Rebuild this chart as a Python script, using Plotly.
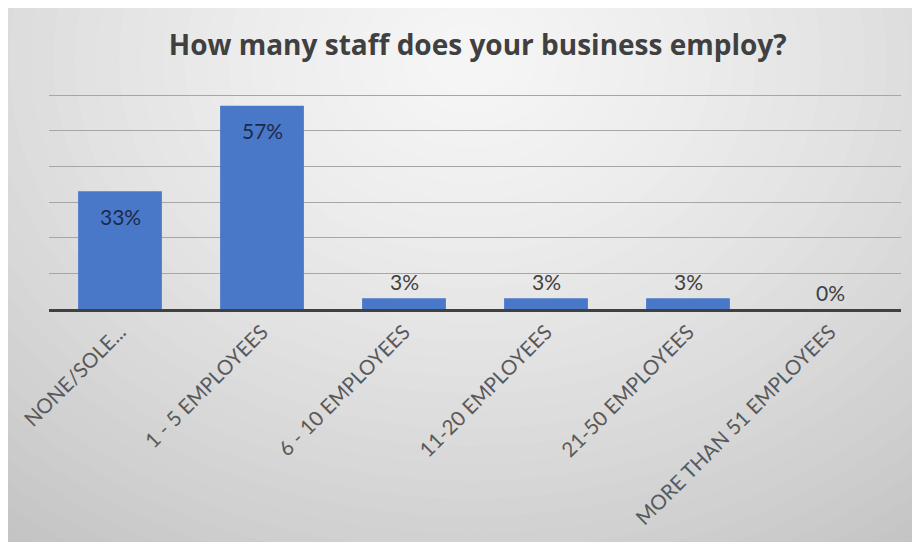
import plotly.graph_objects as go

categories = ["NONE/SOLE...", "1 - 5 EMPLOYEES", "6 - 10 EMPLOYEES",
              "11-20 EMPLOYEES", "21-50 EMPLOYEES", "MORE THAN 51 EMPLOYEES"]
values = [0.33, 0.57, 0.03, 0.03, 0.03, 0.00]
labels = ["33%", "57%", "3%", "3%", "3%", "0%"]
title_text = "How many staff does your business employ?"

# page has an 8px body margin, so the figure is 912x534 starting at (8,8)
W, H = 912, 534
L, R, T, B = 41, 893, 82, 301
YMAX = 0.6 * (B - T) / 214.0  # 60% gridline sits 214px above the baseline


def px2paper(px, py):
    return (px - L) / (R - L), (B - py) / (B - T)


fig = go.Figure()
fig.add_trace(go.Bar(
    x=categories, y=values,
    marker=dict(color="#4a78c8", line=dict(width=0)),
    hoverinfo="skip",
))

# data labels
for c, v, t in zip(categories, values, labels):
    inside = v >= 0.1
    fig.add_annotation(
        x=c, y=v, text=t, showarrow=False,
        yshift=-25 if inside else 17,
        font=dict(family="Lato", size=21, color="#1c2a4a" if inside else "#404040"),
    )

# background gradient (approximate radial gradient)
shapes = []
cx, cy, rx, ry = 462, 52, 650, 520
steps = 40
for i in range(steps, 0, -1):
    d = 1.35 * i / steps
    c = int(max(196, min(246, 246 - 40 * d ** 1.4)))
    x0, y0 = px2paper(cx - rx * d, cy - ry * d)
    x1, y1 = px2paper(cx + rx * d, cy + ry * d)
    shapes.append(dict(type="circle", xref="paper", yref="paper",
                       x0=x0, x1=x1, y0=y1, y1=y0, layer="below",
                       fillcolor=f"rgb({c},{c},{c})", line=dict(width=0)))

fig.update_layout(
    width=W, height=H,
    margin=dict(l=L, r=W - R, t=T, b=H - B, pad=0),
    paper_bgcolor="#c8c8c8",
    plot_bgcolor="rgba(0,0,0,0)",
    shapes=shapes,
    showlegend=False,
    bargap=0.41,
    title=dict(text="<b>" + title_text + "</b>", x=0.515, xanchor="center",
               y=1 - 37 / H, yanchor="middle",
               font=dict(family="Open Sans", size=28, color="#404040")),
    xaxis=dict(
        tickangle=-45, showline=True, linecolor="#404040", linewidth=3,
        ticks="", showgrid=False, automargin=False, fixedrange=True,
        tickfont=dict(family="Lato", size=20.5, color="#595959"),
    ),
    yaxis=dict(
        range=[0, YMAX], tick0=0, dtick=0.1, showgrid=True, gridcolor="#a6a6a6",
        gridwidth=1, zeroline=False, showticklabels=False, ticks="",
        automargin=False, fixedrange=True,
    ),
)

fig.write_html("out.html")
